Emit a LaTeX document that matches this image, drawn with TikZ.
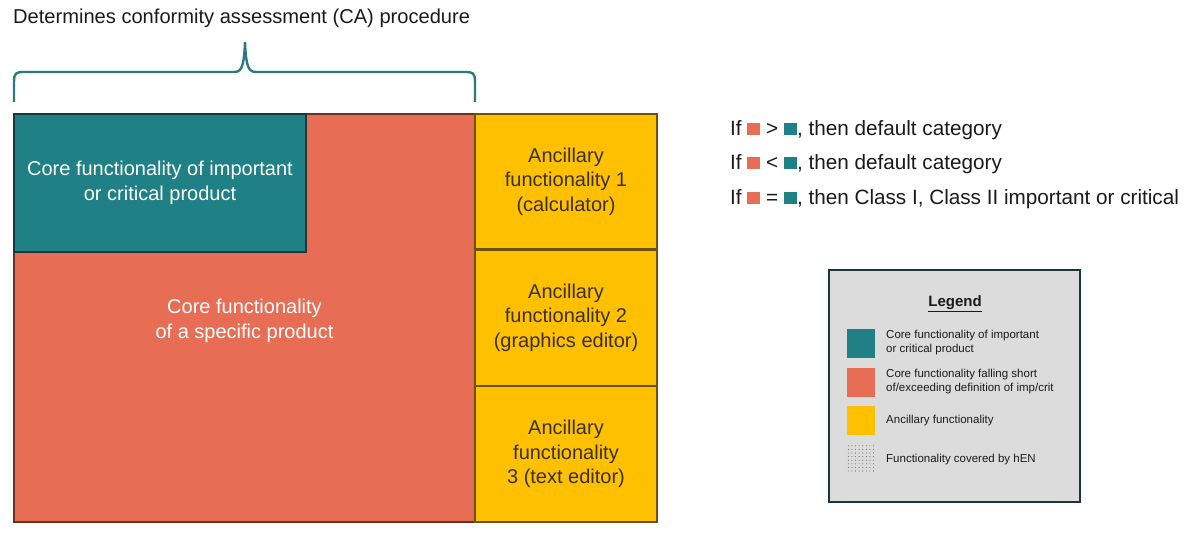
\documentclass[tikz,border=0pt]{standalone}
\usepackage{fontspec}
\setmainfont{Liberation Sans}
\usetikzlibrary{calc}
\definecolor{cteal}{HTML}{1F8085}
\definecolor{ctealdark}{HTML}{17383A}
\definecolor{cred}{HTML}{E86D55}
\definecolor{credline}{HTML}{6A3222}
\definecolor{cyel}{HTML}{FFC000}
\definecolor{cyelline}{HTML}{6E5010}
\definecolor{cyeltext}{HTML}{3A3020}
\definecolor{clegfill}{HTML}{DCDCDC}
\definecolor{cbrace}{HTML}{2B7A80}
\definecolor{ctext}{HTML}{1A1A1A}
\begin{document}
\begin{tikzpicture}[x=1pt,y=-1pt,
  bigfont/.style={font=\fontsize{20}{24.5}\selectfont},
  redarea/.style={draw=credline, line width=2.6pt, fill=cred, inner sep=0pt, text=white, align=center, bigfont},
  tealarea/.style={draw=ctealdark, line width=2.6pt, fill=cteal, inner sep=0pt, text=white, align=center, bigfont},
  yelarea/.style={draw=cyelline, line width=2.4pt, fill=cyel, inner sep=0pt, text=cyeltext, align=center, bigfont, minimum width=182pt},
  ruletext/.style={anchor=west, inner sep=0pt, text=ctext, font=\fontsize{20.7}{24}\selectfont},
  legtext/.style={anchor=west, inner sep=0pt, text=ctext, align=left, font=\fontsize{11.5}{14}\selectfont},
  swatch/.style={minimum width=28pt, minimum height=29pt, inner sep=0pt}
]
\useasboundingbox (0,0) rectangle (1200,540);

% title and brace
\node[anchor=west, inner sep=0pt, text=ctext, font=\fontsize{20.1}{24}\selectfont] (title) at (13,18) {Determines conformity assessment (CA) procedure};
\coordinate (bl) at (14,102);
\coordinate (br) at (475,102);
\coordinate (bm) at (245,42);
\draw[cbrace, line width=2.4pt]
  (bl) -- (14,82) .. controls (14,73) and (16,72) .. (24,72) -- (234,72)
  .. controls (241,72) and (244,68) .. (bm)
  .. controls (246,68) and (249,72) .. (256,72) -- (465,72)
  .. controls (473,72) and (475,73) .. (475,82) -- (br);

% main blocks
\node[redarea, minimum width=461pt, minimum height=408pt] (core) at (244.5,318) {};
\node[inner sep=0pt, text=white, align=center, bigfont] (coretext) at (core.center) [yshift=-3pt] {Core functionality\\of a specific product};
\node[tealarea, minimum width=292pt, minimum height=138pt] (imp) at (160,183) {Core functionality of important\\or critical product};
\node[yelarea, minimum height=135.5pt] (anc1) at (566,181.75) {Ancillary\\functionality 1\\(calculator)};
\node[yelarea, minimum height=136.5pt] (anc2) at (566,317.75) {Ancillary\\functionality 2\\(graphics editor)};
\node[yelarea, minimum height=136pt] (anc3) at (566,454) {Ancillary\\functionality\\3 (text editor)};

% rules
\newcommand{\rsq}{\textcolor{cred}{\rule[0pt]{13pt}{12.5pt}}}
\newcommand{\tsq}{\textcolor{cteal}{\rule[0pt]{13pt}{12.5pt}}}
\node[ruletext] (r1) at (730,130) {If \rsq{} > \tsq, then default category};
\node[ruletext] (r2) at (730,164) {If \rsq{} < \tsq, then default category};
\node[ruletext] (r3) at (730,199) {If \rsq{} = \tsq, then Class I, Class II important or critical};

% legend
\node[draw=ctealdark, line width=2.6pt, fill=clegfill, minimum width=251pt, minimum height=232pt, inner sep=0pt] (legend) at (954.5,386) {};
\node[inner sep=0pt, text=ctext, font=\fontsize{15}{18}\selectfont\bfseries] (legtitle) at (955,304) {\underline{Legend}};
\node[swatch, fill=cteal] (s1) at (861,343) {};
\node[swatch, fill=cred] (s2) at (861,382) {};
\node[swatch, fill=cyel] (s3) at (861,420.5) {};
\node[swatch] (s4) at (861,459) {};
\foreach \i in {0,...,7}{
  \foreach \j in {0,...,7}{
    \fill[black!60] ($(s4.north west)+(1.5+3.6*\i,1.5+3.6*\j)$) circle (0.55pt);
  }
}
\node[legtext] (l1) at (886,343) {Core functionality of important\\or critical product};
\node[legtext] (l2) at (886,382) {Core functionality falling short\\of/exceeding definition of imp/crit};
\node[legtext] (l3) at (886,421) {Ancillary functionality};
\node[legtext] (l4) at (886,460) {Functionality covered by hEN};
\end{tikzpicture}
\end{document}
